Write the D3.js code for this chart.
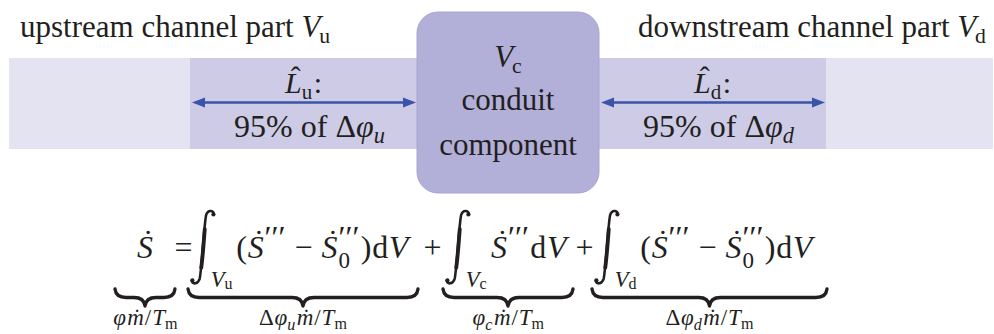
<!DOCTYPE html>
<html>
<head>
<meta charset="utf-8">
<script src="https://cdn.jsdelivr.net/npm/d3@7"></script>
<style>
  html, body { margin: 0; padding: 0; background: #fff; }
  svg { display: block; }
  text { font-family: "Liberation Serif", "Times New Roman", serif; fill: #231f20; white-space: pre; }
</style>
</head>
<body>
<svg id="chart" width="994" height="334"></svg>
<script>
// ---- data ----------------------------------------------------------------
// channel sections along the flow direction, with their relative lengths
const channelSections = ["inlet", "upstream", "component", "downstream", "outlet"];
const sectionLengths  = [181, 227, 182, 227, 167];

// titles above the channel: [text, volume symbol, subscript]
const channelTitles = [
  { section: "inlet",      text: "upstream channel part ",   sym: "V", sub: "u" },
  { section: "outlet",     text: "downstream channel part ", sym: "V", sub: "d" }
];

// evaluation lengths inside the channel parts
const lengthLabels = [
  { section: "upstream",   sub: "u", share: "95% of Δ", phiSub: "u" },
  { section: "downstream", sub: "d", share: "95% of Δ", phiSub: "d" }
];

// text inside the component block
const componentSub   = "c";
const componentLines = ["conduit", "component"];

// entropy balance terms: integration volume, integrand and what each term amounts to
const balanceTerms = [
  { id: "u", section: "upstream",   vol: "u", difference: true,  result: { delta: true,  phi: "u" } },
  { id: "c", section: "component",  vol: "c", difference: false, result: { delta: false, phi: "c" } },
  { id: "d", section: "downstream", vol: "d", difference: true,  result: { delta: true,  phi: "d" } }
];
const balanceOperators = ["=", "+", "+"];

// ---- layout & style --------------------------------------------------------
const svg = d3.select("#chart");
const ink = "#231f20";
const shade = { inlet: "#e4e3f2", outlet: "#e4e3f2", upstream: "#cdcbe6", downstream: "#cdcbe6", component: "#b2afd8" };
const arrowColor = "#3a55a7";

const x = d3.scaleLinear().domain([0, d3.sum(sectionLengths)]).range([9, 993]);
const edges = [0, ...d3.cumsum(sectionLengths)];
const sections = channelSections.map((name, i) => ({ name, x0: x(edges[i]), x1: x(edges[i + 1]) }));
const sec = Object.fromEntries(sections.map(d => [d.name, d]));

const band = { top: 58, bottom: 149 };
const block = { top: 12, bottom: 193, r: 21 };

// small typesetter: each token is its own <text>, placed after the previous one
function typeset(parent, tokens, size) {
  const g = parent.append("g");
  let cx = 0, last = { x: 0, w: 0 };
  for (const tk of tokens) {
    if (tk.int) {
      const x0 = cx + (tk.dx || 0) * size;
      drawIntegral(g, x0, size);
      cx = x0 + 0.62 * size;
      last = { x: x0, w: 0.62 * size };
      continue;
    }
    const fs = size * (tk.s || 1);
    const el = g.append("text")
      .attr("font-size", fs)
      .attr("font-style", tk.i ? "italic" : null)
      .attr("y", (tk.dy || 0) * size)
      .text(tk.t);
    const w = el.node().getComputedTextLength();
    let px;
    if (tk.over) {
      px = last.x + (last.w - w) / 2 + (tk.sh || 0) * size;
    } else if (tk.stack) {
      px = last.x;
      cx = Math.max(cx, px + w);
    } else {
      px = cx + (tk.dx || 0) * size;
      cx = px + w;
    }
    el.attr("x", px);
    if (!tk.over) last = { x: px, w };
  }
  return { g, width: cx };
}

function drawIntegral(g, x0, s) {
  const p = d3.path();
  p.moveTo(x0 + 0.72 * s, -1.36 * s);
  p.bezierCurveTo(x0 + 0.70 * s, -1.50 * s, x0 + 0.52 * s, -1.52 * s, x0 + 0.47 * s, -1.33 * s);
  p.bezierCurveTo(x0 + 0.41 * s, -1.05 * s, x0 + 0.33 * s, 0.42 * s, x0 + 0.27 * s, 0.65 * s);
  p.bezierCurveTo(x0 + 0.21 * s, 0.83 * s, x0 + 0.04 * s, 0.83 * s, x0 + 0.02 * s, 0.70 * s);
  g.append("path").attr("d", p.toString()).attr("fill", "none")
    .attr("stroke", ink).attr("stroke-width", 0.08 * s).attr("stroke-linecap", "round");
  // thicker middle of the stem
  const q = d3.path();
  q.moveTo(x0 + 0.43 * s, -0.9 * s);
  q.bezierCurveTo(x0 + 0.40 * s, -0.5 * s, x0 + 0.35 * s, 0.1 * s, x0 + 0.32 * s, 0.3 * s);
  g.append("path").attr("d", q.toString()).attr("fill", "none")
    .attr("stroke", ink).attr("stroke-width", 0.12 * s).attr("stroke-linecap", "round");
  g.append("circle").attr("cx", x0 + 0.70 * s).attr("cy", -1.36 * s).attr("r", 0.065 * s).attr("fill", ink);
  g.append("circle").attr("cx", x0 + 0.045 * s).attr("cy", 0.70 * s).attr("r", 0.065 * s).attr("fill", ink);
}

function place(t, px, py, anchor) {
  const dx = anchor === "middle" ? -t.width / 2 : anchor === "end" ? -t.width : 0;
  t.g.attr("transform", `translate(${px + dx},${py})`);
}

// ---- channel ---------------------------------------------------------------
sections.filter(d => d.name !== "component").forEach(d => {
  svg.append("rect")
    .attr("x", d.x0).attr("y", band.top)
    .attr("width", d.x1 - d.x0).attr("height", band.bottom - band.top)
    .attr("fill", shade[d.name]);
});

const comp = sec.component;
svg.append("rect")
  .attr("x", comp.x0).attr("y", block.top)
  .attr("width", comp.x1 - comp.x0).attr("height", block.bottom - block.top)
  .attr("rx", block.r).attr("ry", block.r)
  .attr("fill", shade.component).attr("stroke", "#a9a6d2").attr("stroke-width", 1);

// titles
const titleSize = 31;
channelTitles.forEach((d, i) => {
  const t = typeset(svg, [
    { t: d.text },
    { t: d.sym, i: 1 },
    { t: d.sub, s: 0.7, dy: 0.2, dx: -0.04 }
  ], titleSize);
  if (i === 0) place(t, sec.inlet.x0 + 11, 37, "start");
  else place(t, sec.downstream.x0 + 39, 37, "start");
});

// length arrows and labels
const arrowY = 102.5;
lengthLabels.forEach(d => {
  const s = sec[d.section];
  const a = s.x0 + 2, b = s.x1 - 1, head = 13, hw = 5;
  svg.append("line")
    .attr("x1", a + head - 2).attr("x2", b - head + 2)
    .attr("y1", arrowY).attr("y2", arrowY)
    .attr("stroke", arrowColor).attr("stroke-width", 2.4);
  svg.append("path")
    .attr("d", `M${a},${arrowY}L${a + head},${arrowY - hw}L${a + head},${arrowY + hw}Z`)
    .attr("fill", arrowColor);
  svg.append("path")
    .attr("d", `M${b},${arrowY}L${b - head},${arrowY - hw}L${b - head},${arrowY + hw}Z`)
    .attr("fill", arrowColor);

  const cx = (s.x0 + s.x1) / 2;
  const l = typeset(svg, [
    { t: "L", i: 1 },
    { t: "ˆ", over: 1, dy: -0.2, sh: 0.08 },
    { t: d.sub, s: 0.7, dy: 0.2 },
    { t: ":", dx: 0.05 }
  ], 30);
  place(l, cx, 93, "middle");

  const p = typeset(svg, [
    { t: d.share },
    { t: "φ", i: 1 },
    { t: d.phiSub, i: 1, s: 0.7, dy: 0.2 }
  ], 32);
  place(p, cx + 6, 137, "middle");
});

// component block text
const ccx = (comp.x0 + comp.x1) / 2;
place(typeset(svg, [{ t: "V", i: 1 }, { t: componentSub, s: 0.7, dy: 0.2, dx: -0.04 }], 31), ccx, 67, "middle");
componentLines.forEach((line, i) => {
  place(typeset(svg, [{ t: line }], 31), ccx, 110 + i * 45, "middle");
});

// ---- entropy balance -------------------------------------------------------
const eqSize = 32, eqY = 258, braceTop = 289, braceDepth = 17, labelY = 325, labelSize = 23;

const dot = { t: "˙", over: 1, dy: -0.2, sh: 0.1 };
const primes = () => ({ t: "′′′", s: 1.0, dy: -0.3, dx: 0.03 });

function termTokens(term) {
  const head = [
    { int: 1 },
    { t: "V", i: 1, s: 0.7, dy: 0.9 },
    { t: term.vol, s: 0.5, dy: 0.97 }
  ];
  const body = term.difference
    ? [
        { t: "(", dx: 0.12 }, { t: "S", i: 1, dx: 0.02 }, dot, primes(),
        { t: "−", dx: 0.28 }, { t: "S", i: 1, dx: 0.28 }, dot,
        primes(), { t: "0", s: 0.72, dy: 0.3, stack: 1 },
        { t: ")", dx: 0.04 }, { t: "d", dx: 0.02 }, { t: "V", i: 1, dx: 0.02 }
      ]
    : [{ t: "S", i: 1, dx: 0.14 }, dot, primes(), { t: "d", dx: 0.04 }, { t: "V", i: 1, dx: 0.02 }];
  return head.concat(body);
}

function resultTokens(r) {
  const out = [];
  if (r.delta) out.push({ t: "Δ" });
  out.push({ t: "φ", i: 1, dx: 0.03 });
  if (r.phi) out.push({ t: r.phi, i: 1, s: 0.7, dy: 0.2 });
  out.push({ t: "m", i: 1, dx: 0.06 }, { t: "˙", over: 1, dy: 0, sh: 0.06 },
           { t: "/", dx: 0.04 }, { t: "T", i: 1, dx: 0.04 }, { t: "m", s: 0.7, dy: 0.18 });
  return out;
}

// brace extents follow the channel parts they integrate over
const braces = [{ x0: 115, x1: 175, result: { delta: false, phi: null } }];
balanceTerms.forEach(term => {
  const s = sec[term.section];
  let b;
  if (term.id === "c") { const m = (s.x0 + s.x1) / 2; b = { x0: m - 65, x1: m + 65 }; }
  else if (term.id === "u") b = { x0: s.x0 - 2, x1: s.x1 + 1 };
  else b = { x0: s.x0 - 7, x1: s.x1 + 1 };
  b.result = term.result;
  b.term = term;
  braces.push(b);
});

// left-hand side
place(typeset(svg, [{ t: "S", i: 1 }, dot], eqSize), (braces[0].x0 + braces[0].x1) / 2, eqY, "middle");

// operators sit centred in the gaps between braces
balanceOperators.forEach((op, i) => {
  const gx = (braces[i].x1 + braces[i + 1].x0) / 2 + 2;
  place(typeset(svg, [{ t: op }], eqSize), gx, eqY, "middle");
});

// integral terms
braces.slice(1).forEach(b => {
  place(typeset(svg, termTokens(b.term), eqSize), b.x0 + 3, eqY, "start");
});

// underbraces with their values
function bracePath(x0, x1, y0, depth) {
  const mid = (x0 + x1) / 2, hb = depth * 0.5, r = Math.min(11, (x1 - x0) / 5);
  const p = d3.path();
  p.moveTo(x0, y0);
  p.quadraticCurveTo(x0 + 1, y0 + hb, x0 + r, y0 + hb);
  p.lineTo(mid - r, y0 + hb);
  p.quadraticCurveTo(mid - 1, y0 + hb, mid, y0 + depth);
  p.quadraticCurveTo(mid + 1, y0 + hb, mid + r, y0 + hb);
  p.lineTo(x1 - r, y0 + hb);
  p.quadraticCurveTo(x1 - 1, y0 + hb, x1, y0);
  return p.toString();
}

braces.forEach(b => {
  svg.append("path")
    .attr("d", bracePath(b.x0, b.x1, braceTop, braceDepth))
    .attr("fill", "none").attr("stroke", ink)
    .attr("stroke-width", 3.3).attr("stroke-linejoin", "round").attr("stroke-linecap", "round");
  place(typeset(svg, resultTokens(b.result), labelSize), (b.x0 + b.x1) / 2, labelY, "middle");
});
</script>
</body>
</html>
